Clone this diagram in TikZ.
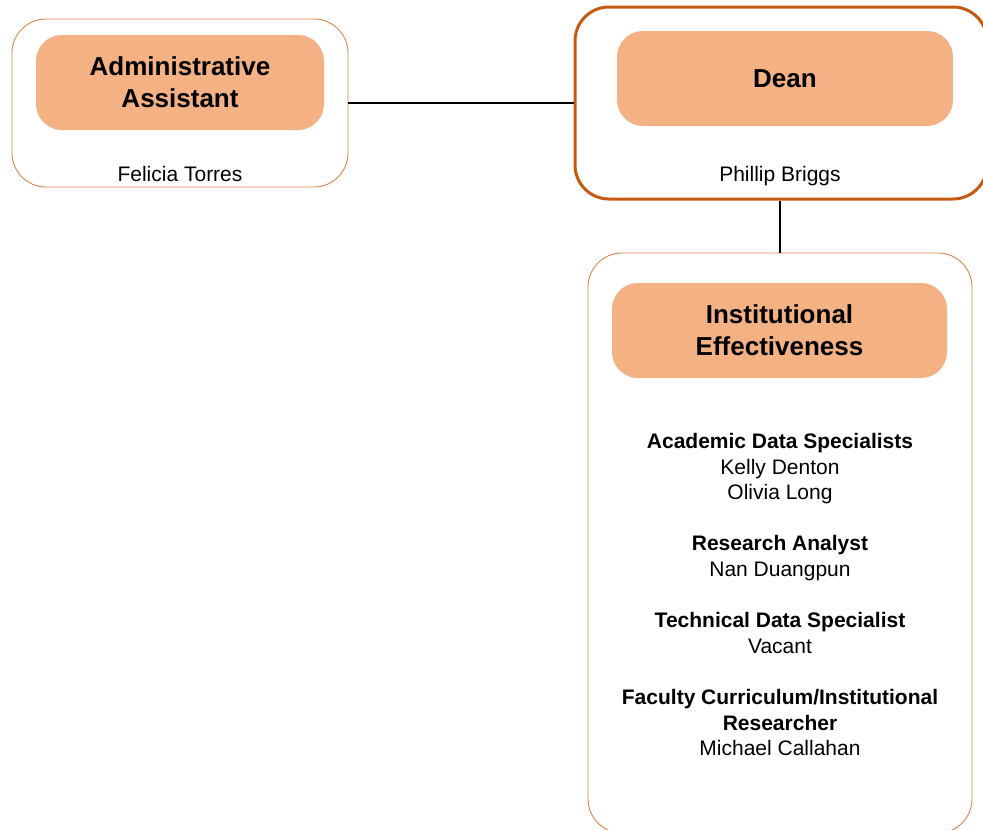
\documentclass[tikz,border=0pt]{standalone}
\usepackage{fontspec}
\setmainfont{Liberation Sans}
\definecolor{peach}{HTML}{F4B183}
\definecolor{rust}{HTML}{C55A11}
\definecolor{clay}{HTML}{D9864F}
\tikzset{
	outer/.style={draw=clay, line width=0.9pt, rounded corners=34pt, fill=white, inner sep=0pt},
	head/.style={fill=peach, rounded corners=26pt, align=center, inner sep=0pt,
		font=\fontsize{26}{32}\selectfont\bfseries},
	who/.style={font=\fontsize{21}{25.6}\selectfont, align=center, inner sep=0pt},
	link/.style={line width=2pt},
}

\begin{document}
\begin{tikzpicture}[x=1pt,y=-1pt]
			\clip (0,0) rectangle (983,830);
			\fill[white] (0,0) rectangle (983,830);

			% outer frames
			\node[outer, minimum width=336pt, minimum height=168pt] (adm) at (180,103) {};
			\node[outer, draw=rust, line width=3pt, minimum width=412pt, minimum height=192pt] (dean) at (781,103) {};
			\node[outer, minimum width=384pt, minimum height=580pt] (ie) at (780,543) {};

			\draw[link] (adm) -- (dean);
			\draw[link] (ie.north |- dean.south) -- (ie.north);

			% headings
			\node[head, minimum width=288pt, minimum height=95pt] (admh) at (180,82.5) {Administrative\\Assistant};
			\node[head, minimum width=336pt, minimum height=95pt] (deanh) at (785,78.5) {Dean};
			\node[head, minimum width=335pt, minimum height=95pt] (ieh) at (779.5,330.5) {Institutional\\Effectiveness};

			% people
			\node[who, anchor=base] (admn) at (180,181.5) {Felicia Torres};
			\node[who, anchor=base] (deann) at (780,181.5) {Phillip Briggs};
			\node[who] (ien) at (780,594.5) {\textbf{Academic Data Specialists}\\Kelly Denton\\Olivia Long\\[25.6pt]
				\textbf{Research Analyst}\\Nan Duangpun\\[25.6pt]
				\textbf{Technical Data Specialist}\\Vacant\\[25.6pt]
				\textbf{Faculty Curriculum/Institutional}\\\textbf{Researcher}\\Michael Callahan};
		\end{tikzpicture}
\end{document}
